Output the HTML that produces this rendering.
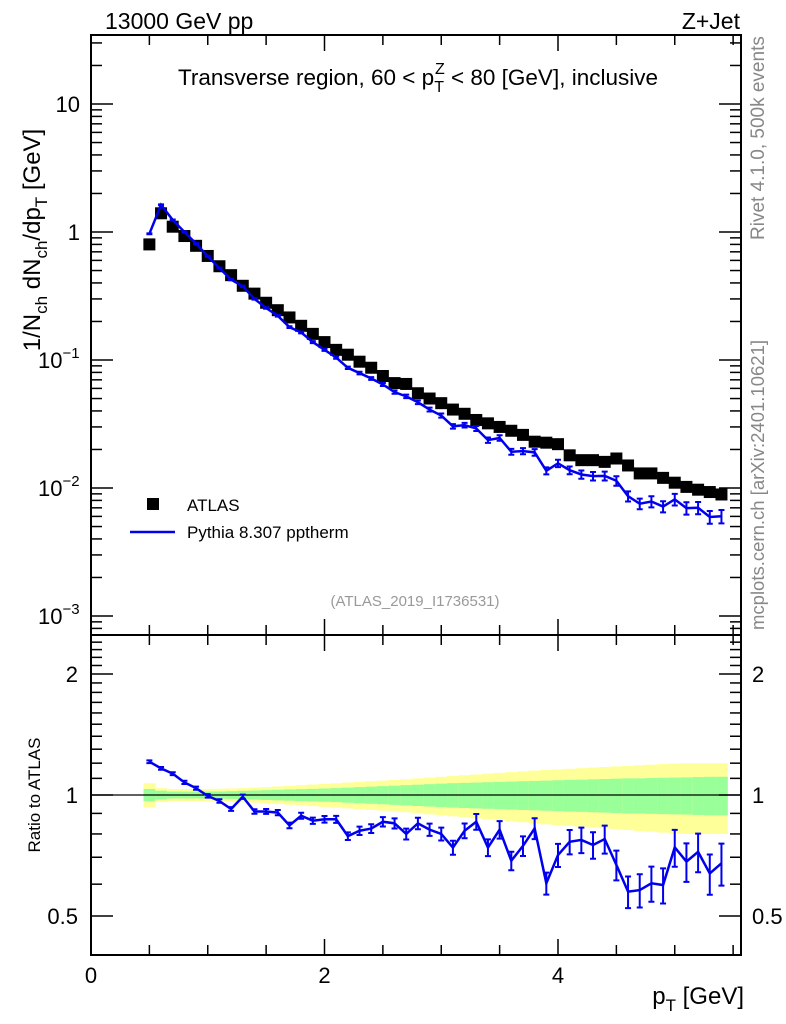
<!DOCTYPE html>
<html><head><meta charset="utf-8"><style>
body{margin:0;background:#fff;}
svg{display:block;font-family:"Liberation Sans",Arial,sans-serif;}
</style></head><body>
<svg id="c" width="786" height="1024" viewBox="0 0 786 1024" xmlns="http://www.w3.org/2000/svg">
<text x="105" y="29" font-size="23">13000 GeV pp</text>
<text x="740" y="29" font-size="23" text-anchor="end">Z+Jet</text>
<text x="418" y="85" font-size="22.5" text-anchor="middle">Transverse region, 60 &lt; p<tspan font-size="16" dy="7">T</tspan><tspan font-size="16" dx="-9" dy="-18">Z</tspan><tspan dy="11"> &lt; 80 [GeV], inclusive</tspan></text>
<text transform="translate(764,240) rotate(-90)" font-size="19" fill="#888">Rivet 4.1.0,  500k events</text>
<text transform="translate(764,630) rotate(-90)" font-size="18.5" fill="#888">mcplots.cern.ch [arXiv:2401.10621]</text>
<text x="415" y="606" font-size="15" fill="#999" text-anchor="middle">(ATLAS_2019_I1736531)</text>
<text transform="translate(40,240) rotate(-90)" font-size="24" text-anchor="middle">1/N<tspan font-size="17" dy="7">ch</tspan><tspan dy="-7"> dN</tspan><tspan font-size="17" dy="7">ch</tspan><tspan dy="-7">/dp</tspan><tspan font-size="17" dy="7">T</tspan><tspan dy="-7"> [GeV]</tspan></text>
<text transform="translate(40,795) rotate(-90)" font-size="17" text-anchor="middle">Ratio to ATLAS</text>
<text x="744" y="1004" font-size="24" text-anchor="end">p<tspan font-size="17" dy="7">T</tspan><tspan dy="-7"> [GeV]</tspan></text>
<g>
<rect x="147" y="498" width="12" height="12" fill="#000"/>
<text x="187" y="511" font-size="17">ATLAS</text>
<line x1="130" y1="532" x2="175" y2="532" stroke="#0000ee" stroke-width="2.5"/>
<text x="187" y="538" font-size="17">Pythia 8.307 pptherm</text>
</g>
</svg>
<script>
const xCenters=[0.5,0.6,0.7,0.8,0.9,1.0,1.1,1.2,1.3,1.4,1.5,1.6,1.7,1.8,1.9,2.0,2.1,2.2,2.3,2.4,2.5,2.6,2.7,2.8,2.9,3.0,3.1,3.2,3.3,3.4,3.5,3.6,3.7,3.8,3.9,4.0,4.1,4.2,4.3,4.4,4.5,4.6,4.7,4.8,4.9,5.0,5.1,5.2,5.3,5.4];
const atlasValues=[0.80,1.4,1.1,0.93,0.78,0.65,0.54,0.46,0.38,0.33,0.28,0.245,0.215,0.185,0.16,0.138,0.12,0.11,0.097,0.087,0.075,0.066,0.065,0.055,0.050,0.046,0.041,0.038,0.034,0.032,0.030,0.028,0.026,0.023,0.0226,0.022,0.018,0.0165,0.0165,0.016,0.017,0.015,0.013,0.013,0.012,0.011,0.0102,0.0097,0.0093,0.0089];
const ratioValues=[1.21,1.165,1.13,1.075,1.04,0.995,0.966,0.923,0.99,0.91,0.91,0.904,0.84,0.888,0.863,0.87,0.87,0.79,0.815,0.825,0.858,0.85,0.80,0.85,0.82,0.80,0.74,0.815,0.858,0.74,0.82,0.686,0.747,0.826,0.603,0.709,0.765,0.773,0.751,0.777,0.67,0.575,0.58,0.603,0.597,0.741,0.683,0.722,0.638,0.676];
const mcRelErr=[0.008,0.008,0.008,0.009,0.009,0.01,0.01,0.011,0.012,0.013,0.014,0.015,0.016,0.017,0.018,0.019,0.02,0.022,0.024,0.025,0.027,0.029,0.031,0.033,0.035,0.037,0.04,0.042,0.045,0.048,0.05,0.053,0.056,0.06,0.063,0.066,0.07,0.073,0.076,0.08,0.085,0.09,0.095,0.1,0.1,0.105,0.11,0.11,0.115,0.12];
const greenBand=[0.035,0.025,0.02,0.02,0.02,0.02,0.02,0.022,0.024,0.026,0.028,0.03,0.032,0.034,0.036,0.038,0.04,0.043,0.046,0.049,0.052,0.055,0.058,0.061,0.064,0.067,0.07,0.072,0.074,0.076,0.078,0.08,0.082,0.084,0.086,0.088,0.09,0.092,0.094,0.096,0.098,0.1,0.1,0.102,0.104,0.105,0.106,0.108,0.11,0.11];
const yellowBand=[0.07,0.04,0.035,0.035,0.035,0.035,0.036,0.038,0.04,0.043,0.046,0.05,0.054,0.058,0.062,0.066,0.07,0.074,0.078,0.082,0.086,0.09,0.094,0.1,0.105,0.11,0.115,0.12,0.125,0.13,0.135,0.14,0.145,0.15,0.155,0.158,0.162,0.166,0.17,0.174,0.178,0.182,0.186,0.19,0.194,0.198,0.2,0.2,0.2,0.2];
const xTicksMajor=[0,2,4];
const yMainLabels=[["10",1],["1",0],["10","-1"],["10","-2"],["10","-3"]];
const ratioTickLabels=[2,1,0.5];

const NS="http://www.w3.org/2000/svg";
const svg=document.getElementById('c');
const L=91,R=741,T=35,MB=635,RB=955;
const xs=v=>L+v*116.75;
const ym=v=>232-128*Math.log10(v);
const yr=v=>795-121*Math.log2(v);
function mk(tag,attrs,parent){const e=document.createElementNS(NS,tag);for(const k in attrs)e.setAttribute(k,attrs[k]);(parent||svg).appendChild(e);return e;}
const mcValues=atlasValues.map((a,i)=>a*ratioValues[i]);

const bands=mk('g',{});


xCenters.forEach((x,i)=>{
  const x0=xs(x-0.05),x1=xs(x+0.05);
  const y=mk('rect',{x:x0,y:yr(1+yellowBand[i]),width:x1-x0+0.5,height:yr(1-yellowBand[i])-yr(1+yellowBand[i]),fill:'#ffff99'},bands);
  
  
  const g=mk('rect',{x:x0,y:yr(1+greenBand[i]),width:x1-x0+0.5,height:yr(1-greenBand[i])-yr(1+greenBand[i]),fill:'#99ff99'},bands);
  
  
});
const one=mk('line',{x1:L,x2:R,y1:yr(1),y2:yr(1),stroke:'#000','stroke-width':1.2});



xCenters.forEach((x,i)=>{
  const r=mk('rect',{x:xs(x)-6,y:ym(atlasValues[i])-6,width:12,height:12,fill:'#000'});
  
  
});
function series(yf,vals,name){
  const g=mk('g',{});
  
  
  mk('polyline',{points:xCenters.map((x,i)=>xs(x)+','+yf(vals[i])).join(' '),fill:'none',stroke:'#0000ee','stroke-width':2.5},g);
  xCenters.forEach((x,i)=>{
    const a=yf(vals[i]*(1+mcRelErr[i])),b=yf(vals[i]*(1-mcRelErr[i])),cx=xs(x);
    const e=mk('path',{d:`M${cx},${a}V${b}M${cx-3},${a}h6M${cx-3},${b}h6`,stroke:'#0000ee','stroke-width':2,fill:'none'},g);
    
    
  });
}
series(ym,mcValues,'pythia-main-series');
series(yr,ratioValues,'pythia-ratio-series');

const axes=mk('g',{stroke:'#000','stroke-width':2,fill:'none'});


mk('rect',{x:L,y:T,width:R-L,height:MB-T},axes);
mk('rect',{x:L,y:MB,width:R-L,height:RB-MB},axes);
for(let v=0;v<=5.5;v+=0.5){
  const maj=Math.abs(v%2)<1e-6, len=maj?16:10, x=xs(v);
  [[T,1],[MB,-1],[MB,1],[RB,-1]].forEach(([y,d])=>mk('line',{x1:x,x2:x,y1:y,y2:y+d*len,'stroke-width':1.5},axes));
}
xTicksMajor.forEach(v=>{
  const t=mk('text',{x:xs(v),y:983,'font-size':22,'text-anchor':'middle'});
  t.textContent=v;
  
  
});
for(let e=-4;e<=1;e++){for(let m=1;m<=9;m++){
  const y=ym(m*Math.pow(10,e)); if(y<T||y>MB) continue;
  const len=m===1?22:11;
  mk('line',{x1:L,x2:L+len,y1:y,y2:y,'stroke-width':1.5},axes);
  mk('line',{x1:R,x2:R-len,y1:y,y2:y,'stroke-width':1.5},axes);
}}
yMainLabels.forEach(([b,e])=>{
  const val=Math.pow(10,Number(e));
  const t=mk('text',{x:38,y:ym(val)+8,'font-size':22,'text-anchor':'start'});
  
  
  if(e===1||e===0){t.setAttribute('x',80);t.setAttribute('text-anchor','end');t.textContent=e===1?'10':'1';}
  else{t.textContent='10';const s=mk('tspan',{'font-size':15,dy:-10},t);s.textContent='\u2212'+String(e).slice(1);}
});
for(let v=0.4;v<=2.5001;v+=0.1){
  const y=yr(v); const maj=[0.5,1,2].some(m=>Math.abs(m-v)<1e-6); const len=maj?22:11;
  mk('line',{x1:L,x2:L+len,y1:y,y2:y,'stroke-width':1.5},axes);
  mk('line',{x1:R,x2:R-len,y1:y,y2:y,'stroke-width':1.5},axes);
}
ratioTickLabels.forEach(v=>{
  [[78,'end'],[752,'start']].forEach(([x,a])=>{
    const t=mk('text',{x:x,y:yr(v)+8,'font-size':22,'text-anchor':a});
    t.textContent=v;
    
    
  });
});
</script>
</body></html>
